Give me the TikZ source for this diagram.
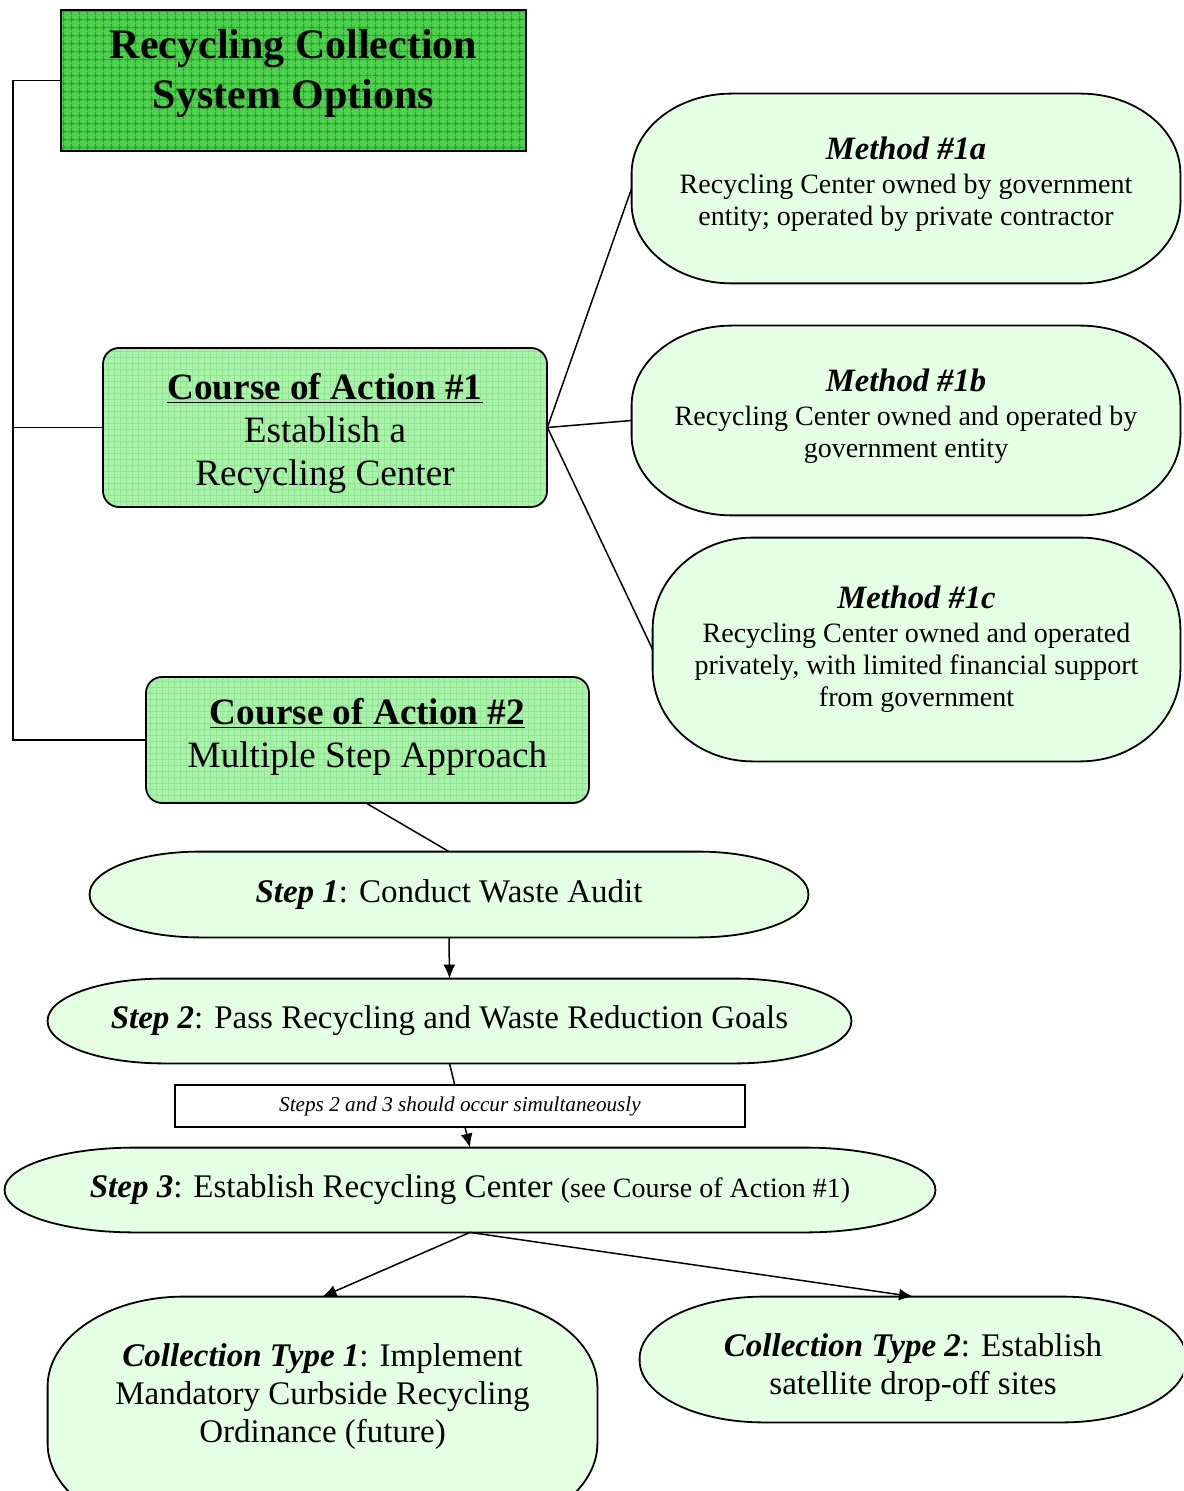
\documentclass[tikz,border=0pt]{standalone}
\usepackage{fontspec}
\setmainfont{Liberation Serif}
\usetikzlibrary{arrows.meta,calc,backgrounds,patterns.meta}

\definecolor{titlegreen}{RGB}{80,208,80}
\definecolor{titlegrid}{RGB}{34,170,34}
\definecolor{coursegreen}{RGB}{170,243,170}
\definecolor{coursegrid}{RGB}{145,228,145}
\definecolor{palegreen}{RGB}{229,255,229}

\tikzset{
  box/.style={inner sep=0pt, align=center},
  titlebox/.style={box, draw, line width=1pt, preaction={fill=titlegreen},
    pattern={Hatch[angle=0,distance=4pt,line width=0.7pt]}, pattern color=titlegrid,
    font=\fontsize{21}{25}\selectfont\bfseries},
  coursebox/.style={box, draw, line width=0.9pt, rounded corners=8pt, preaction={fill=coursegreen},
    pattern={Hatch[angle=0,distance=3pt,line width=0.4pt]}, pattern color=coursegrid,
    font=\fontsize{18.6}{21.5}\selectfont},
  methodbox/.style={box, font=\fontsize{14}{16}\selectfont},
  stepbox/.style={box, font=\fontsize{16.5}{19}\selectfont},
  softfill/.style={draw, line width=0.9pt, fill=palegreen},
  link/.style={line width=0.75pt},
  flow/.style={link, -{Latex[length=7pt,width=6pt]}},
  notebox/.style={box, draw, line width=0.75pt, fill=white, font=\fontsize{10.6}{12}\selectfont\itshape},
}

% outline with elliptic corners round a node: name, x radius, y radius, extra depth below
\newcommand\softshape[4]{%
  \path[softfill] let \p1=(#1.north west), \p2=(#1.south east) in
    (\x1+#2,\y1) -- (\x2-#2,\y1) arc[start angle=90,end angle=0,x radius=#2,y radius=#3]
    -- (\x2,\y2-#4+#3) arc[start angle=0,end angle=-90,x radius=#2,y radius=#3]
    -- (\x1+#2,\y2-#4) arc[start angle=-90,end angle=-180,x radius=#2,y radius=#3]
    -- (\x1,\y1-#3) arc[start angle=180,end angle=90,x radius=#2,y radius=#3] -- cycle;}
\newcommand\methodhead[1]{{\fontsize{16.3}{18}\selectfont\bfseries\itshape #1}}
\newcommand\lead[1]{{\bfseries\itshape #1}}

\begin{document}
\begin{tikzpicture}[x=0.5pt,y=-0.5pt]
  \useasboundingbox (0,0) rectangle (1183,1491);

  % heading and the two courses
  \node[titlebox, minimum width=232.5pt, minimum height=70.5pt] (title) at (293.5,80.5)
    {Recycling Collection\\ System Options\rule[-11.5pt]{0pt}{0pt}};
  \node[coursebox, minimum width=222pt, minimum height=79.5pt] (coa1) at (325,427.5)
    {\rule{0pt}{19pt}\underline{\textbf{Course of Action \#1}}\\ Establish a\\ Recycling Center};
  \node[coursebox, minimum width=221.5pt, minimum height=63pt] (coa2) at (367.5,740)
    {\underline{\textbf{Course of Action \#2}}\\ Multiple Step Approach\rule[-7pt]{0pt}{0pt}};

  % methods
  \node[methodbox, minimum width=274pt, minimum height=94.5pt] (m1a) at (906,188.5)
    {\methodhead{Method \#1a}\\[1pt] Recycling Center owned by government\\ entity; operated by private contractor\rule[-7pt]{0pt}{0pt}};
  \node[methodbox, minimum width=274pt, minimum height=94.5pt] (m1b) at (906,420.5)
    {\methodhead{Method \#1b}\\[1pt] Recycling Center owned and operated by\\ government entity\rule[-7pt]{0pt}{0pt}};
  \node[methodbox, minimum width=263.5pt, minimum height=111.5pt] (m1c) at (916.5,649.5)
    {\methodhead{Method \#1c}\\[1pt] Recycling Center owned and operated\\ privately, with limited financial support\\ from government};

  % steps
  \node[stepbox, minimum width=359pt, minimum height=42.5pt] (step1) at (449,894.5)
    {\lead{Step 1}: Conduct Waste Audit};
  \node[stepbox, minimum width=401.5pt, minimum height=42pt] (step2) at (449.5,1021)
    {\lead{Step 2}: Pass Recycling and Waste Reduction Goals};
  \node[stepbox, minimum width=465pt, minimum height=42pt] (step3) at (470,1190)
    {\lead{Step 3}: Establish Recycling Center {\fontsize{14}{16}\selectfont(see Course of Action \#1)}};

  % collection types
  \node[stepbox, minimum width=274.5pt, minimum height=93pt] (coll1) at (322.5,1390)
    {\rule{0pt}{18pt}\lead{Collection Type 1}: Implement\\ Mandatory Curbside Recycling\\ Ordinance (future)};
  \node[stepbox, minimum width=273pt, minimum height=62.5pt] (coll2) at (913,1359.5)
    {\rule{0pt}{19pt}\lead{Collection Type 2}: Establish\\ satellite drop-off sites};

  \begin{scope}[on background layer]
    \clip (0,0) rectangle (1183,1491);
    \softshape{m1a}{50pt}{40pt}{0pt}
    \softshape{m1b}{50pt}{40pt}{0pt}
    \softshape{m1c}{50pt}{46pt}{0pt}
    \softshape{step1}{55pt}{21.25pt}{0pt}
    \softshape{step2}{58pt}{21pt}{0pt}
    \softshape{step3}{65pt}{21pt}{0pt}
    \softshape{coll1}{68pt}{45pt}{25pt}
    \softshape{coll2}{62pt}{31pt}{0pt}
  \end{scope}

  % connectors
  \coordinate (spine) at (13,0);
  \draw[link] (title.west) -- (spine |- title.west) -- (spine |- coa2.west) -- (coa2.west);
  \draw[link] (spine |- coa1.west) -- (coa1.west);
  \draw[link] (coa1.east) -- (m1a.west);
  \draw[link] (coa1.east) -- (m1b.west);
  \draw[link] (coa1.east) -- (m1c.west);
  \draw[link] (coa2.south) -- (step1.north);
  \draw[flow] (step1.south) -- (step2.north);
  \draw[flow] (step2.south) -- (step3.north);
  \node[notebox, minimum width=285pt, minimum height=21pt] (note) at (460,1106)
    {Steps 2 and 3 should occur simultaneously};
  \draw[flow] (step3.south) -- (coll1.north);
  \draw[flow] (step3.south) -- (coll2.north);
\end{tikzpicture}
\end{document}
